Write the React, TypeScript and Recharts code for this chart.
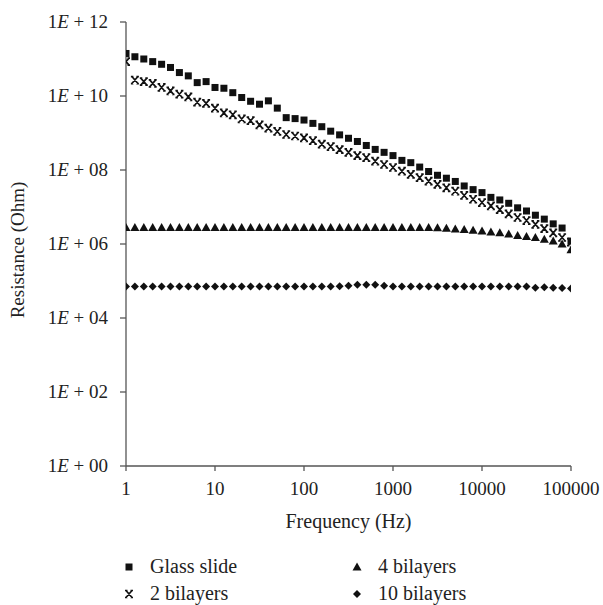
import React from 'react'
import { ScatterChart, Scatter, XAxis, YAxis, Legend, Label } from 'recharts'

// frequency sweep, 10 points per decade (Hz)
const freq = [
  1, 1.259, 1.585, 1.995, 2.512, 3.162, 3.981, 5.012, 6.31, 7.943,
  10, 12.59, 15.85, 19.95, 25.12, 31.62, 39.81, 50.12, 63.1, 79.43,
  100, 125.9, 158.5, 199.5, 251.2, 316.2, 398.1, 501.2, 631, 794.3,
  1000, 1259, 1585, 1995, 2512, 3162, 3981, 5012, 6310, 7943,
  10000, 12590, 15850, 19950, 25120, 31620, 39810, 50120, 63100, 79430,
  100000,
]

// resistance (Ohm)
const glassSlide = [
  1.41e11, 1.15e11, 1.0e11, 8.5e10, 7.2e10, 5.9e10, 4.3e10, 3.5e10, 2.3e10, 2.45e10,
  1.7e10, 1.62e10, 1.23e10, 9.1e9, 7.2e9, 6.0e9, 7.4e9, 4.7e9, 2.6e9, 2.45e9,
  2.24e9, 1.82e9, 1.48e9, 1.12e9, 8.9e8, 7.2e8, 5.9e8, 4.6e8, 3.6e8, 3.0e8,
  2.45e8, 1.82e8, 1.58e8, 1.2e8, 9.1e7, 7.2e7, 6.0e7, 4.9e7, 3.7e7, 2.95e7,
  2.45e7, 1.82e7, 1.55e7, 1.26e7, 9.5e6, 7.8e6, 6.0e6, 4.7e6, 3.5e6, 2.7e6,
  1.2e6,
]
const bilayers2 = [
  8.5e10, 2.7e10, 2.45e10, 2.2e10, 1.7e10, 1.38e10, 1.12e10, 9.5e9, 6.8e9, 6.3e9,
  4.7e9, 3.5e9, 3.1e9, 2.4e9, 2.15e9, 1.66e9, 1.35e9, 1.1e9, 9.1e8, 8.3e8,
  7.4e8, 6.2e8, 5.0e8, 4.3e8, 3.55e8, 3.0e8, 2.45e8, 2.15e8, 1.74e8, 1.41e8,
  1.17e8, 9.3e7, 7.6e7, 6.2e7, 5.0e7, 4.1e7, 3.3e7, 2.7e7, 2.05e7, 1.62e7,
  1.32e7, 1.07e7, 8.5e6, 6.5e6, 5.2e6, 4.3e6, 3.4e6, 2.6e6, 2.0e6, 1.5e6,
  1.12e6,
]
const bilayers4 = [
  2.8e6, 2.8e6, 2.8e6, 2.8e6, 2.8e6, 2.8e6, 2.8e6, 2.8e6, 2.8e6, 2.8e6,
  2.8e6, 2.8e6, 2.8e6, 2.8e6, 2.8e6, 2.8e6, 2.8e6, 2.8e6, 2.8e6, 2.8e6,
  2.8e6, 2.8e6, 2.8e6, 2.8e6, 2.8e6, 2.8e6, 2.8e6, 2.8e6, 2.8e6, 2.8e6,
  2.8e6, 2.8e6, 2.8e6, 2.8e6, 2.8e6, 2.75e6, 2.65e6, 2.55e6, 2.45e6, 2.35e6,
  2.25e6, 2.1e6, 2.0e6, 1.85e6, 1.7e6, 1.6e6, 1.5e6, 1.35e6, 1.2e6, 1.0e6,
  7.0e5,
]
const bilayers10 = [
  7.1e4, 7.1e4, 7.1e4, 7.1e4, 7.1e4, 7.1e4, 7.1e4, 7.1e4, 7.1e4, 7.1e4,
  7.1e4, 7.1e4, 7.1e4, 7.1e4, 7.1e4, 7.1e4, 7.1e4, 7.1e4, 7.1e4, 7.1e4,
  7.1e4, 7.1e4, 7.1e4, 7.1e4, 7.2e4, 7.4e4, 7.9e4, 7.9e4, 7.9e4, 7.4e4,
  7.1e4, 7.1e4, 7.1e4, 7.1e4, 7.1e4, 7.1e4, 7.1e4, 7.1e4, 7.1e4, 7.1e4,
  7.1e4, 7.1e4, 7.1e4, 7.1e4, 7.1e4, 7.1e4, 6.6e4, 6.8e4, 6.6e4, 6.5e4,
  6.3e4,
]

const xTicks = [1, 10, 100, 1000, 10000, 100000]
const yTicks = [1, 1e2, 1e4, 1e6, 1e8, 1e10, 1e12]

const toRows = (vals: number[]) => freq.map((f, i) => ({ f, r: vals[i] }))

const FONT = '"Liberation Serif", "DejaVu Serif", serif'
const INK = '#111'
const AXIS = '#555'
const TXT = '#222'

const SquareDot = ({ cx, cy }: any) => (
  <rect x={cx - 3.5} y={cy - 3.5} width={7} height={7} fill={INK} />
)
const CrossDot = ({ cx, cy }: any) => (
  <path
    d={`M${cx - 3},${cy - 3.5}L${cx + 3},${cy + 3.5}M${cx + 3},${cy - 3.5}L${cx - 3},${cy + 3.5}` +
      `M${cx - 4},${cy - 3.5}h2.5M${cx + 1.5},${cy - 3.5}h2.5M${cx - 4},${cy + 3.5}h2.5M${cx + 1.5},${cy + 3.5}h2.5`}
    stroke={INK}
    strokeWidth={1.7}
    fill="none"
  />
)
const TriangleDot = ({ cx, cy }: any) => (
  <polygon points={`${cx},${cy - 4.5} ${cx + 4.5},${cy + 3.5} ${cx - 4.5},${cy + 3.5}`} fill={INK} />
)
const DiamondDot = ({ cx, cy }: any) => (
  <polygon points={`${cx},${cy - 4} ${cx + 4},${cy} ${cx},${cy + 4} ${cx - 4},${cy}`} fill={INK} />
)

const series = [
  { name: 'Glass slide', data: glassSlide, shape: SquareDot },
  { name: '2 bilayers', data: bilayers2, shape: CrossDot },
  { name: '4 bilayers', data: bilayers4, shape: TriangleDot },
  { name: '10 bilayers', data: bilayers10, shape: DiamondDot },
]

const YTick = ({ x, y, payload }: any) => {
  const exp = Math.round(Math.log10(payload.value))
  const s = exp < 10 ? '0' + exp : String(exp)
  return (
    <text x={x} y={y} dy={6} textAnchor="end" fontFamily={FONT} fontSize={19} fill={TXT}>
      1<tspan fontStyle="italic">E</tspan> + {s}
    </text>
  )
}

const XTick = ({ x, y, payload }: any) => (
  <text x={x} y={y} dy={22} textAnchor="middle" fontFamily={FONT} fontSize={19} fill={TXT}>
    {payload.value}
  </text>
)

const LegendBox = () => (
  <svg width={603} height={53} style={{ display: 'block' }}>
    {series.map((s, i) => {
      const col = i < 2 ? 0 : 1
      const row = i % 2
      const mx = col === 0 ? 129 : 357
      const my = 15 + row * 27
      const Shape = s.shape
      return (
        <g key={s.name}>
          <Shape cx={mx} cy={my} />
          <text x={mx + 21} y={my + 6} fontFamily={FONT} fontSize={20} fill={TXT}>
            {s.name}
          </text>
        </g>
      )
    })}
  </svg>
)

export default function App() {
  return (
    <div style={{ position: 'absolute', left: 0, top: 0, width: 603, height: 605, background: '#fff' }}>
      <ScatterChart width={603} height={605} margin={{ top: 22, right: 32, bottom: 0, left: 16 }}>
        <XAxis
          type="number"
          dataKey="f"
          scale="log"
          domain={[1, 100000]}
          ticks={xTicks}
          allowDataOverflow
          height={139}
          stroke={AXIS}
          strokeWidth={1.3}
          tickSize={5}
          tickLine={{ stroke: AXIS }}
          tick={<XTick />}
          interval={0}
        >
          <Label
            content={({ viewBox }: any) => (
              <text
                x={viewBox.x + viewBox.width / 2}
                y={viewBox.y + 62}
                textAnchor="middle"
                fontFamily={FONT}
                fontSize={20}
                fill={TXT}
              >
                Frequency (Hz)
              </text>
            )}
          />
        </XAxis>
        <YAxis
          type="number"
          dataKey="r"
          scale="log"
          domain={[1, 1e12]}
          ticks={yTicks}
          allowDataOverflow
          width={110}
          stroke={AXIS}
          strokeWidth={1.3}
          tickSize={6}
          tickMargin={12}
          tickLine={{ stroke: AXIS }}
          tick={<YTick />}
          interval={0}
        >
          <Label
            content={({ viewBox }: any) => (
              <text
                x={24}
                y={viewBox.y + viewBox.height / 2 + 6}
                transform={`rotate(-90 24 ${viewBox.y + viewBox.height / 2 + 6})`}
                textAnchor="middle"
                fontFamily={FONT}
                fontSize={19}
                fill={TXT}
              >
                Resistance (Ohm)
              </text>
            )}
          />
        </YAxis>
        {series.map((s) => (
          <Scatter
            key={s.name}
            name={s.name}
            data={toRows(s.data)}
            shape={s.shape}
            isAnimationActive={false}
          />
        ))}
        <Legend
          verticalAlign="middle"
          content={() => <LegendBox />}
          wrapperStyle={{ position: 'absolute', top: 552, left: 0, width: 603, height: 53 }}
        />
      </ScatterChart>
    </div>
  )
}
